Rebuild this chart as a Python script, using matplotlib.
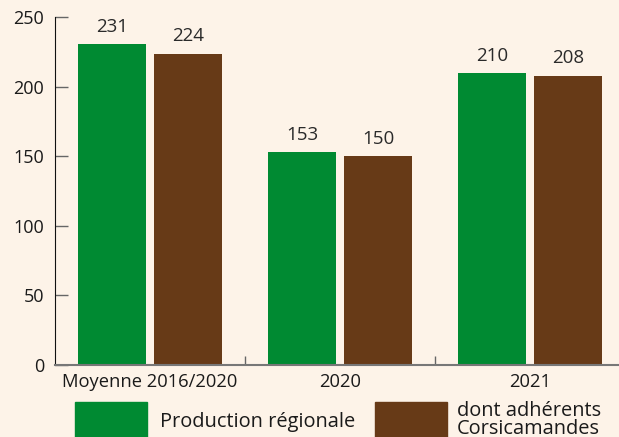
import matplotlib.pyplot as plt
import numpy as np
from matplotlib.patches import Rectangle

plt.rcParams['font.family'] = ['Open Sans', 'DejaVu Sans']

# Production d'amandes (tonnes)
categories = ['Moyenne 2016/2020', '2020', '2021']
production = [231, 153, 210]
adherents = [224, 150, 208]
series_names = ['Production régionale', 'dont adhérents\nCorsicamandes']
colors = ['#008A32', '#673A17']
bg = '#FDF3E8'

fig = plt.figure(figsize=(6.19, 4.37), dpi=100, facecolor=bg)
W, H = 619, 437
ax = fig.add_axes([55 / W, (H - 364.5) / H, 570 / W, (364.5 - 17.5) / H])
ax.set_facecolor(bg)

x = np.arange(len(categories))
w = 0.363
for vals, off, c in zip([production, adherents], [-0.2, 0.2], colors):
    bars = ax.bar(x + off, vals, width=w, color=c)
    for b, v in zip(bars, vals):
        ax.annotate(str(v), (b.get_x() + b.get_width() / 2, v),
                    xytext=(0, 6), textcoords='offset points',
                    ha='center', va='bottom', fontsize=13.5, color='#2a2a2a')

ax.set_xlim(-0.5, 2.5)
ax.set_ylim(0, 250)
ax.set_yticks([0, 50, 100, 150, 200, 250])
ax.tick_params(axis='y', direction='in', length=9.5, width=1, color='#666666',
               labelsize=13, labelcolor='#1a1a1a', pad=8)
ax.set_xticks(x)
ax.set_xticklabels(categories)
ax.set_xticks([0.5, 1.5], minor=True)
ax.tick_params(axis='x', which='major', length=0, labelsize=13.2,
               labelcolor='#1a1a1a', pad=6)
ax.tick_params(axis='x', which='minor', direction='in', length=6.5,
               width=1, color='#666666')

for s in ['top', 'right']:
    ax.spines[s].set_visible(False)
ax.spines['left'].set_color('#111111')
ax.spines['bottom'].set_color('#777777')
ax.spines['bottom'].set_linewidth(1.5)

# legend drawn in pixel space along the bottom edge
legend_items = [(75, 160), (375, 457)]
for (px, tx), c, name in zip(legend_items, colors, series_names):
    fig.add_artist(Rectangle((px / W, (H - 440) / H), 72 / W, 38.3 / H,
                             transform=fig.transFigure, color=c))
    lines = name.split('\n')
    if len(lines) == 1:
        baselines = [427]
    else:
        baselines = [415.7, 434]
    for line, yb in zip(lines, baselines):
        fig.text(tx / W, (H - yb) / H, line, fontsize=14.4, color='#1a1a1a',
                 ha='left', va='baseline')

fig.savefig('out.png', dpi=100, facecolor=bg)
